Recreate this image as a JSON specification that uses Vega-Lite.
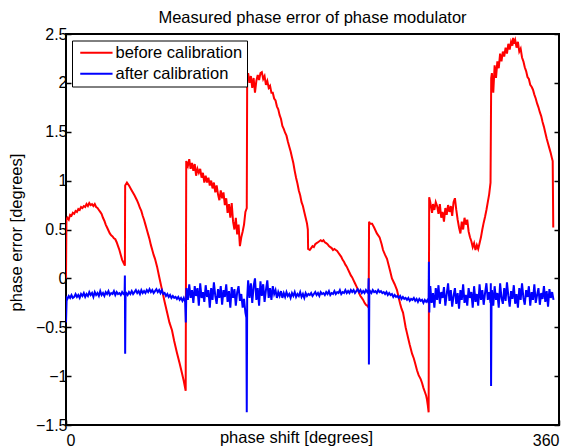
{
"$schema": "https://vega.github.io/schema/vega-lite/v6.json",
"width": 493, "height": 391,
"autosize": "none",
"padding": {"left": 66, "top": 34, "right": 4, "bottom": 22},
"background": "white",
"title": {"text": "Measured phase error of phase modulator", "fontSize": 16.5, "fontWeight": "normal", "font": "Liberation Sans", "color": "black", "offset": 0, "anchor": "middle"},
"datasets": {
"before": [
{"x":0,"y":0.0},{"x":0.3,"y":0.6},{"x":1,"y":0.62},{"x":2,"y":0.6},{"x":3,"y":0.65},{"x":4,"y":0.64},{"x":5,"y":0.67},{"x":6,"y":0.66},{"x":7,"y":0.69},{"x":8,"y":0.68},{"x":9,"y":0.71},{"x":10,"y":0.7},{"x":11,"y":0.73},{"x":12,"y":0.72},{"x":13,"y":0.74},{"x":14,"y":0.73},{"x":15,"y":0.76},{"x":16,"y":0.74},{"x":17,"y":0.77},{"x":18,"y":0.75},{"x":19,"y":0.76},{"x":20,"y":0.74},{"x":21,"y":0.76},{"x":22,"y":0.73},{"x":23,"y":0.72},{"x":24,"y":0.7},{"x":25,"y":0.68},{"x":26,"y":0.66},{"x":27,"y":0.62},{"x":28,"y":0.59},{"x":29,"y":0.55},{"x":30,"y":0.52},{"x":31,"y":0.49},{"x":32,"y":0.46},{"x":33,"y":0.44},{"x":34,"y":0.43},{"x":35,"y":0.41},{"x":36,"y":0.4},{"x":37,"y":0.37},{"x":38,"y":0.33},{"x":39,"y":0.29},{"x":40,"y":0.24},{"x":41,"y":0.19},{"x":42,"y":0.16},{"x":43,"y":0.13},
{"x":43.2,"y":0.95},{"x":44.5,"y":0.98},{"x":46,"y":0.95},{"x":48,"y":0.9},{"x":50,"y":0.85},{"x":51.8,"y":0.8},{"x":53,"y":0.76},{"x":54,"y":0.72},{"x":55,"y":0.69},{"x":56,"y":0.64},{"x":57,"y":0.6},{"x":58,"y":0.55},{"x":59,"y":0.5},{"x":60,"y":0.45},{"x":61,"y":0.4},{"x":62,"y":0.34},{"x":63,"y":0.29},{"x":64,"y":0.24},{"x":65,"y":0.2},{"x":66.5,"y":0.12},{"x":68,"y":0.02},{"x":70,"y":-0.11},{"x":72,"y":-0.24},{"x":74,"y":-0.36},{"x":75.5,"y":-0.45},{"x":77.4,"y":-0.53},{"x":79,"y":-0.64},{"x":81,"y":-0.76},{"x":83,"y":-0.87},{"x":84.7,"y":-0.97},{"x":86,"y":-1.05},{"x":87.4,"y":-1.15},
{"x":87.8,"y":1.2},{"x":89,"y":1.15},{"x":90,"y":1.22},{"x":91,"y":1.12},{"x":92,"y":1.18},{"x":93,"y":1.1},{"x":94,"y":1.17},{"x":95,"y":1.05},{"x":96,"y":1.12},{"x":97,"y":1.08},{"x":98,"y":1.12},{"x":99,"y":1.03},{"x":100,"y":1.08},{"x":101,"y":0.98},{"x":102,"y":1.05},{"x":103,"y":0.98},{"x":104,"y":1.03},{"x":105,"y":0.95},{"x":106,"y":1.0},{"x":107,"y":0.92},{"x":108,"y":0.98},{"x":109,"y":0.88},{"x":110,"y":0.95},{"x":111,"y":0.86},{"x":112,"y":0.8},{"x":113,"y":0.9},{"x":114,"y":0.82},{"x":115,"y":0.88},{"x":116,"y":0.75},{"x":117,"y":0.82},{"x":118,"y":0.67},{"x":119,"y":0.76},{"x":120,"y":0.62},{"x":121,"y":0.77},{"x":122,"y":0.58},{"x":123,"y":0.5},{"x":124,"y":0.62},{"x":125,"y":0.45},{"x":126,"y":0.55},{"x":127,"y":0.33},{"x":128,"y":0.42},{"x":129,"y":0.48},{"x":130,"y":0.55},{"x":131,"y":0.68},{"x":132,"y":0.72},
{"x":132.3,"y":2.05},{"x":133,"y":2.1},{"x":134,"y":2.0},{"x":135,"y":2.07},{"x":136,"y":1.95},{"x":137,"y":2.05},{"x":138,"y":1.9},{"x":139,"y":2.02},{"x":140,"y":2.08},{"x":141,"y":2.03},{"x":142,"y":2.1},{"x":143,"y":2.11},{"x":144,"y":2.04},{"x":145,"y":2.07},{"x":146,"y":1.98},{"x":147,"y":2.02},{"x":148,"y":1.95},{"x":149,"y":1.97},{"x":150,"y":1.9},{"x":151,"y":1.9},{"x":152,"y":1.84},{"x":153,"y":1.82},{"x":154,"y":1.76},{"x":155,"y":1.73},{"x":156,"y":1.67},{"x":157,"y":1.63},{"x":158,"y":1.56},{"x":159,"y":1.53},{"x":160,"y":1.49},{"x":161,"y":1.46},{"x":162,"y":1.4},{"x":163,"y":1.35},{"x":164,"y":1.3},{"x":165,"y":1.24},{"x":166,"y":1.18},{"x":167,"y":1.1},{"x":168,"y":1.03},{"x":169,"y":0.97},{"x":170,"y":0.9},{"x":171,"y":0.85},{"x":172,"y":0.78},{"x":173,"y":0.74},{"x":174,"y":0.68},{"x":175,"y":0.62},{"x":176,"y":0.56},{"x":176.6,"y":0.5},{"x":176.8,"y":0.3},
{"x":178,"y":0.29},{"x":179,"y":0.31},{"x":180,"y":0.33},{"x":181,"y":0.32},{"x":182,"y":0.35},{"x":183,"y":0.36},{"x":184,"y":0.37},{"x":185,"y":0.38},{"x":186,"y":0.39},{"x":187,"y":0.38},{"x":188,"y":0.39},{"x":189,"y":0.37},{"x":190,"y":0.36},{"x":191,"y":0.35},{"x":192,"y":0.33},{"x":193,"y":0.32},{"x":194,"y":0.31},{"x":195,"y":0.29},{"x":196,"y":0.3},{"x":197,"y":0.29},{"x":198,"y":0.28},{"x":199,"y":0.26},{"x":200,"y":0.24},{"x":201,"y":0.22},{"x":202,"y":0.19},{"x":203,"y":0.17},{"x":204,"y":0.14},{"x":205,"y":0.12},{"x":206,"y":0.09},{"x":207,"y":0.06},{"x":208,"y":0.03},{"x":209,"y":0.01},{"x":210,"y":-0.02},{"x":211,"y":-0.05},{"x":212,"y":-0.08},{"x":213,"y":-0.11},{"x":214,"y":-0.15},{"x":215,"y":-0.18},{"x":216,"y":-0.2},{"x":217,"y":-0.22},{"x":218,"y":-0.25},{"x":219,"y":-0.27},{"x":220,"y":-0.28},{"x":221,"y":-0.3},
{"x":221.3,"y":0.58},{"x":222,"y":0.56},{"x":223.5,"y":0.56},{"x":225,"y":0.52},{"x":227,"y":0.46},{"x":229,"y":0.42},{"x":230.5,"y":0.35},{"x":231.5,"y":0.29},{"x":233,"y":0.24},{"x":234.4,"y":0.2},{"x":236.6,"y":0.08},{"x":238,"y":0.0},{"x":240,"y":-0.06},{"x":241.7,"y":-0.12},{"x":243,"y":-0.2},{"x":244,"y":-0.26},{"x":245,"y":-0.31},{"x":246.1,"y":-0.35},{"x":247,"y":-0.42},{"x":248,"y":-0.5},{"x":249,"y":-0.56},{"x":250,"y":-0.62},{"x":251,"y":-0.68},{"x":252.7,"y":-0.77},{"x":254,"y":-0.82},{"x":255,"y":-0.87},{"x":256.3,"y":-0.94},{"x":257.5,"y":-0.99},{"x":259,"y":-1.03},{"x":260,"y":-1.07},{"x":261,"y":-1.12},{"x":262,"y":-1.16},{"x":263,"y":-1.2},{"x":263.6,"y":-1.24},{"x":264.2,"y":-1.3},{"x":264.8,"y":-1.37},
{"x":265.2,"y":0.83},{"x":266,"y":0.78},{"x":267.3,"y":0.67},{"x":268,"y":0.76},{"x":269,"y":0.7},{"x":270,"y":0.78},{"x":271,"y":0.74},{"x":272,"y":0.66},{"x":273,"y":0.76},{"x":274,"y":0.62},{"x":275,"y":0.68},{"x":276,"y":0.58},{"x":277,"y":0.72},{"x":278,"y":0.65},{"x":279,"y":0.75},{"x":280,"y":0.68},{"x":281,"y":0.74},{"x":282,"y":0.64},{"x":283,"y":0.78},{"x":284,"y":0.82},{"x":285,"y":0.7},{"x":286,"y":0.6},{"x":287,"y":0.52},{"x":288,"y":0.46},{"x":289,"y":0.58},{"x":290,"y":0.5},{"x":291,"y":0.62},{"x":292,"y":0.55},{"x":293,"y":0.6},{"x":294,"y":0.48},{"x":295,"y":0.42},{"x":296,"y":0.38},{"x":297,"y":0.32},{"x":298,"y":0.36},{"x":299,"y":0.29},{"x":300,"y":0.34},{"x":301,"y":0.3},{"x":302,"y":0.36},{"x":303,"y":0.42},{"x":304,"y":0.5},{"x":305,"y":0.57},{"x":306,"y":0.63},{"x":307,"y":0.7},{"x":308,"y":0.78},{"x":309,"y":0.86},{"x":310,"y":0.98},
{"x":310.5,"y":2.05},{"x":311,"y":2.1},{"x":312,"y":1.9},{"x":313,"y":2.18},{"x":314,"y":2.05},{"x":315,"y":2.22},{"x":316,"y":2.15},{"x":317,"y":2.3},{"x":318,"y":2.22},{"x":319,"y":2.32},{"x":320,"y":2.27},{"x":321,"y":2.36},{"x":322,"y":2.3},{"x":323,"y":2.4},{"x":324,"y":2.34},{"x":325,"y":2.42},{"x":326,"y":2.38},{"x":326.5,"y":2.46},{"x":327,"y":2.4},{"x":328,"y":2.44},{"x":329,"y":2.36},{"x":330,"y":2.42},{"x":331,"y":2.32},{"x":332,"y":2.35},{"x":333,"y":2.26},{"x":334,"y":2.22},{"x":335,"y":2.16},{"x":336,"y":2.12},{"x":337,"y":2.06},{"x":338,"y":2.04},{"x":339,"y":1.98},{"x":340,"y":1.96},{"x":341,"y":1.93},{"x":342,"y":1.88},{"x":343,"y":1.84},{"x":344,"y":1.79},{"x":345,"y":1.75},{"x":346,"y":1.7},{"x":347,"y":1.66},{"x":348,"y":1.6},{"x":349,"y":1.55},{"x":350,"y":1.49},{"x":351,"y":1.43},{"x":352,"y":1.38},{"x":353,"y":1.33},{"x":354,"y":1.28},{"x":355,"y":1.22},{"x":355.4,"y":1.2},{"x":355.8,"y":0.52}
],
"after": [
{"x":0,"y":-0.45},{"x":0.5,"y":-0.2},{"x":1,"y":-0.21},{"x":2,"y":-0.18},{"x":3,"y":-0.2},{"x":4,"y":-0.17},{"x":5,"y":-0.2},{"x":6,"y":-0.19},{"x":7,"y":-0.16},{"x":8,"y":-0.19},{"x":9,"y":-0.17},{"x":10,"y":-0.2},{"x":11,"y":-0.16},{"x":12,"y":-0.18},{"x":13,"y":-0.15},{"x":14,"y":-0.19},{"x":15,"y":-0.16},{"x":16,"y":-0.18},{"x":17,"y":-0.14},{"x":18,"y":-0.17},{"x":19,"y":-0.15},{"x":20,"y":-0.19},{"x":21,"y":-0.14},{"x":22,"y":-0.17},{"x":23,"y":-0.15},{"x":24,"y":-0.18},{"x":25,"y":-0.13},{"x":26,"y":-0.17},{"x":27,"y":-0.15},{"x":28,"y":-0.18},{"x":29,"y":-0.14},{"x":30,"y":-0.16},{"x":31,"y":-0.13},{"x":32,"y":-0.17},{"x":33,"y":-0.15},{"x":34,"y":-0.16},{"x":35,"y":-0.13},{"x":36,"y":-0.17},{"x":37,"y":-0.14},{"x":38,"y":-0.16},{"x":39,"y":-0.15},{"x":40,"y":-0.17},{"x":41,"y":-0.14},{"x":42,"y":-0.16},
{"x":42.8,"y":-0.15},{"x":43.0,"y":0.03},{"x":43.2,"y":-0.77},{"x":43.5,"y":-0.16},
{"x":44,"y":-0.15},{"x":45,"y":-0.17},{"x":46,"y":-0.14},{"x":47,"y":-0.16},{"x":48,"y":-0.13},{"x":49,"y":-0.16},{"x":50,"y":-0.14},{"x":51,"y":-0.12},{"x":52,"y":-0.15},{"x":53,"y":-0.13},{"x":54,"y":-0.16},{"x":55,"y":-0.12},{"x":56,"y":-0.15},{"x":57,"y":-0.13},{"x":58,"y":-0.15},{"x":59,"y":-0.12},{"x":60,"y":-0.14},{"x":61,"y":-0.11},{"x":62,"y":-0.14},{"x":63,"y":-0.12},{"x":64,"y":-0.15},{"x":65,"y":-0.13},{"x":66,"y":-0.11},{"x":67,"y":-0.14},{"x":68,"y":-0.12},{"x":69,"y":-0.15},{"x":70,"y":-0.12},{"x":71,"y":-0.16},{"x":72,"y":-0.15},{"x":73,"y":-0.18},{"x":74,"y":-0.16},{"x":75,"y":-0.19},{"x":76,"y":-0.17},{"x":77,"y":-0.2},{"x":78,"y":-0.18},{"x":79,"y":-0.2},{"x":80,"y":-0.19},{"x":81,"y":-0.21},{"x":82,"y":-0.19},{"x":83,"y":-0.22},{"x":84,"y":-0.2},{"x":85,"y":-0.23},{"x":86,"y":-0.2},{"x":87,"y":-0.24},
{"x":87.5,"y":-0.45},{"x":87.8,"y":-0.2},
{"x":88,"y":-0.1},{"x":89,"y":-0.22},{"x":90,"y":-0.06},{"x":91,"y":-0.2},{"x":92,"y":-0.12},{"x":93,"y":-0.25},{"x":94,"y":-0.08},{"x":95,"y":-0.18},{"x":96,"y":-0.1},{"x":97,"y":-0.28},{"x":98,"y":-0.05},{"x":99,"y":-0.2},{"x":100,"y":-0.14},{"x":101,"y":-0.24},{"x":102,"y":-0.07},{"x":103,"y":-0.19},{"x":104,"y":-0.12},{"x":105,"y":-0.3},{"x":106,"y":-0.1},{"x":107,"y":-0.22},{"x":108,"y":-0.04},{"x":109,"y":-0.18},{"x":110,"y":-0.26},{"x":111,"y":-0.11},{"x":112,"y":-0.2},{"x":113,"y":-0.08},{"x":114,"y":-0.27},{"x":115,"y":-0.12},{"x":116,"y":-0.19},{"x":117,"y":-0.06},{"x":118,"y":-0.24},{"x":119,"y":-0.13},{"x":120,"y":-0.3},{"x":121,"y":-0.09},{"x":122,"y":-0.2},{"x":123,"y":-0.11},{"x":124,"y":-0.28},{"x":125,"y":-0.14},{"x":126,"y":-0.08},{"x":127,"y":-0.23},{"x":128,"y":-0.16},{"x":129,"y":-0.3},{"x":130,"y":-0.21},{"x":131,"y":-0.35},
{"x":131.7,"y":-0.4},{"x":132.0,"y":-1.37},{"x":132.3,"y":-0.2},
{"x":133,"y":-0.02},{"x":134,"y":-0.2},{"x":135,"y":-0.05},{"x":136,"y":-0.25},{"x":137,"y":-0.08},{"x":138,"y":0.0},{"x":139,"y":-0.22},{"x":140,"y":-0.1},{"x":141,"y":-0.28},{"x":142,"y":-0.03},{"x":143,"y":-0.18},{"x":144,"y":-0.06},{"x":145,"y":-0.24},{"x":146,"y":-0.12},{"x":147,"y":-0.02},{"x":148,"y":-0.2},{"x":149,"y":-0.1},{"x":150,"y":-0.22},{"x":151,"y":-0.08},{"x":152,"y":-0.16},{"x":153,"y":-0.12},{"x":154,"y":-0.2},{"x":155,"y":-0.14},{"x":156,"y":-0.18},{"x":157,"y":-0.13},{"x":158,"y":-0.2},{"x":159,"y":-0.15},{"x":160,"y":-0.19},{"x":161,"y":-0.14},{"x":162,"y":-0.18},{"x":163,"y":-0.16},{"x":164,"y":-0.2},{"x":165,"y":-0.15},{"x":166,"y":-0.18},{"x":167,"y":-0.14},{"x":168,"y":-0.19},{"x":169,"y":-0.16},{"x":170,"y":-0.18},{"x":171,"y":-0.14},{"x":172,"y":-0.19},{"x":173,"y":-0.16},{"x":174,"y":-0.2},{"x":175,"y":-0.15},{"x":176,"y":-0.18},{"x":177,"y":-0.16},
{"x":178,"y":-0.17},{"x":179,"y":-0.15},{"x":180,"y":-0.18},{"x":181,"y":-0.16},{"x":182,"y":-0.14},{"x":183,"y":-0.17},{"x":184,"y":-0.15},{"x":185,"y":-0.18},{"x":186,"y":-0.14},{"x":187,"y":-0.16},{"x":188,"y":-0.15},{"x":189,"y":-0.17},{"x":190,"y":-0.14},{"x":191,"y":-0.16},{"x":192,"y":-0.13},{"x":193,"y":-0.17},{"x":194,"y":-0.15},{"x":195,"y":-0.16},{"x":196,"y":-0.13},{"x":197,"y":-0.16},{"x":198,"y":-0.14},{"x":199,"y":-0.15},{"x":200,"y":-0.12},{"x":201,"y":-0.16},{"x":202,"y":-0.14},{"x":203,"y":-0.15},{"x":204,"y":-0.12},{"x":205,"y":-0.15},{"x":206,"y":-0.13},{"x":207,"y":-0.15},{"x":208,"y":-0.12},{"x":209,"y":-0.14},{"x":210,"y":-0.12},{"x":211,"y":-0.15},{"x":212,"y":-0.13},{"x":213,"y":-0.11},{"x":214,"y":-0.14},{"x":215,"y":-0.12},{"x":216,"y":-0.15},{"x":217,"y":-0.13},{"x":218,"y":-0.15},{"x":219,"y":-0.12},{"x":220,"y":-0.14},
{"x":220.8,"y":-0.12},{"x":221.0,"y":0.0},{"x":221.2,"y":-0.88},{"x":221.5,"y":-0.14},
{"x":222,"y":-0.13},{"x":223,"y":-0.15},{"x":224,"y":-0.12},{"x":225,"y":-0.14},{"x":226,"y":-0.13},{"x":227,"y":-0.15},{"x":228,"y":-0.12},{"x":229,"y":-0.14},{"x":230,"y":-0.13},{"x":231,"y":-0.15},{"x":232,"y":-0.14},{"x":233,"y":-0.16},{"x":234,"y":-0.14},{"x":235,"y":-0.17},{"x":236,"y":-0.15},{"x":237,"y":-0.17},{"x":238,"y":-0.16},{"x":239,"y":-0.19},{"x":240,"y":-0.17},{"x":241,"y":-0.19},{"x":242,"y":-0.18},{"x":243,"y":-0.2},{"x":244,"y":-0.18},{"x":245,"y":-0.21},{"x":246,"y":-0.19},{"x":247,"y":-0.21},{"x":248,"y":-0.2},{"x":249,"y":-0.22},{"x":250,"y":-0.2},{"x":251,"y":-0.23},{"x":252,"y":-0.21},{"x":253,"y":-0.22},{"x":254,"y":-0.2},{"x":255,"y":-0.23},{"x":256,"y":-0.21},{"x":257,"y":-0.24},{"x":258,"y":-0.21},{"x":259,"y":-0.23},{"x":260,"y":-0.22},{"x":261,"y":-0.25},{"x":262,"y":-0.22},{"x":263,"y":-0.24},{"x":264,"y":-0.22},
{"x":264.8,"y":-0.25},{"x":265.0,"y":0.17},{"x":265.3,"y":-0.35},{"x":265.6,"y":-0.12},
{"x":266,"y":-0.08},{"x":267,"y":-0.25},{"x":268,"y":-0.15},{"x":269,"y":-0.3},{"x":270,"y":-0.1},{"x":271,"y":-0.22},{"x":272,"y":-0.07},{"x":273,"y":-0.26},{"x":274,"y":-0.14},{"x":275,"y":-0.2},{"x":276,"y":-0.09},{"x":277,"y":-0.28},{"x":278,"y":-0.16},{"x":279,"y":-0.05},{"x":280,"y":-0.23},{"x":281,"y":-0.12},{"x":282,"y":-0.29},{"x":283,"y":-0.18},{"x":284,"y":-0.1},{"x":285,"y":-0.26},{"x":286,"y":-0.15},{"x":287,"y":-0.31},{"x":288,"y":-0.12},{"x":289,"y":-0.22},{"x":290,"y":-0.06},{"x":291,"y":-0.25},{"x":292,"y":-0.17},{"x":293,"y":-0.28},{"x":294,"y":-0.1},{"x":295,"y":-0.2},{"x":296,"y":-0.14},{"x":297,"y":-0.3},{"x":298,"y":-0.08},{"x":299,"y":-0.24},{"x":300,"y":-0.16},{"x":301,"y":-0.28},{"x":302,"y":-0.06},{"x":303,"y":-0.22},{"x":304,"y":-0.12},{"x":305,"y":-0.27},{"x":306,"y":-0.15},{"x":307,"y":-0.05},{"x":308,"y":-0.22},{"x":309,"y":-0.14},{"x":310,"y":-0.25},
{"x":310.2,"y":-0.05},{"x":310.4,"y":-1.1},{"x":310.7,"y":-0.3},
{"x":311,"y":-0.12},{"x":312,"y":-0.28},{"x":313,"y":-0.08},{"x":314,"y":-0.22},{"x":315,"y":-0.15},{"x":316,"y":-0.3},{"x":317,"y":-0.05},{"x":318,"y":-0.2},{"x":319,"y":-0.26},{"x":320,"y":-0.1},{"x":321,"y":-0.23},{"x":322,"y":-0.04},{"x":323,"y":-0.18},{"x":324,"y":-0.29},{"x":325,"y":-0.13},{"x":326,"y":-0.21},{"x":327,"y":-0.07},{"x":328,"y":-0.26},{"x":329,"y":-0.16},{"x":330,"y":-0.3},{"x":331,"y":-0.1},{"x":332,"y":-0.22},{"x":333,"y":-0.05},{"x":334,"y":-0.2},{"x":335,"y":-0.27},{"x":336,"y":-0.12},{"x":337,"y":-0.19},{"x":338,"y":-0.08},{"x":339,"y":-0.28},{"x":340,"y":-0.14},{"x":341,"y":-0.22},{"x":342,"y":-0.06},{"x":343,"y":-0.25},{"x":344,"y":-0.17},{"x":345,"y":-0.1},{"x":346,"y":-0.27},{"x":347,"y":-0.15},{"x":348,"y":-0.21},{"x":349,"y":-0.08},{"x":350,"y":-0.24},{"x":351,"y":-0.13},{"x":352,"y":-0.29},{"x":353,"y":-0.11},{"x":354,"y":-0.2},{"x":355,"y":-0.14},{"x":356,"y":-0.22}
]
},
"layer": [
{
"data": {"name": "before"},
"mark": {"type": "line", "strokeWidth": 2, "clip": true},
"encoding": {
"x": {"field": "x", "type": "quantitative", "scale": {"domain": [0, 360], "nice": false},
 "axis": {"values": [0, 360], "format": "d", "labelFlush": true, "labelPadding": 12, "title": "phase shift [degrees]", "titleX": 230, "titleY": 4, "titleBaseline": "top", "titleAlign": "center"}},
"y": {"field": "y", "type": "quantitative", "scale": {"domain": [-1.5, 2.5], "nice": false},
 "axis": {"values": [-1.5, -1, -0.5, 0, 0.5, 1, 1.5, 2, 2.5], "format": "~g", "labelPadding": 4, "title": "phase error [degrees]", "titleX": -42, "titleY": 198}},
"color": {"datum": "before calibration", "type": "nominal",
 "scale": {"domain": ["before calibration", "after calibration"], "range": ["#ff0000", "#0000ff"]},
 "legend": {"orient": "none", "legendX": 6, "legendY": 6.5, "title": null, "symbolType": "M-0.8,0H5.66", "symbolSize": 100, "symbolStrokeWidth": 2, "labelFont": "Liberation Sans", "labelFontSize": 16.5, "labelColor": "black", "labelOffset": 23, "strokeColor": "black", "fillColor": "white", "padding": 4, "rowPadding": 4}}
}
},
{
"data": {"name": "after"},
"mark": {"type": "line", "strokeWidth": 2, "clip": true},
"encoding": {
"x": {"field": "x", "type": "quantitative"},
"y": {"field": "y", "type": "quantitative",
 "axis": {"orient": "right", "values": [-1.5, -1, -0.5, 0, 0.5, 1, 1.5, 2, 2.5], "labels": false, "title": null}},
"color": {"datum": "after calibration", "type": "nominal"}
}
}
],
"resolve": {"axis": {"y": "independent"}},
"config": {
"font": "Liberation Sans",
"view": {"stroke": "black", "strokeWidth": 2},
"axis": {"grid": false, "domain": false, "labelFont": "Liberation Sans", "labelFontSize": 16, "labelColor": "black", "titleFont": "Liberation Sans", "titleFontSize": 16.5, "titleFontWeight": "normal", "titleColor": "black", "tickColor": "black", "tickSize": -5, "tickWidth": 1.5}
}
}
